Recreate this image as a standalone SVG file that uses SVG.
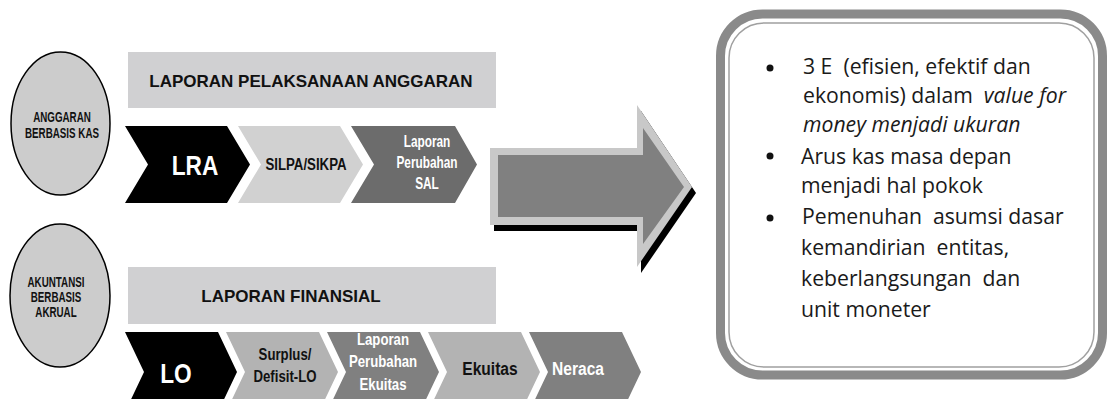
<svg xmlns="http://www.w3.org/2000/svg" width="1107" height="399" viewBox="0 0 1107 399">
<style>
.nar{font-family:"Liberation Sans",Arial,sans-serif;font-weight:bold;text-anchor:middle}
.ban{font-family:"Liberation Sans",Arial,sans-serif;font-weight:bold;font-size:17px;text-anchor:middle;fill:#111}
.ell{fill:#cccccc;stroke:#000;stroke-width:1.5}
.w{fill:#fff}.k{fill:#111}
.body{font-family:"Open Sans",Lato,sans-serif;font-size:21.2px;fill:#1a1a1a}
</style>
<rect width="1107" height="399" fill="#fff"/>
<g id="circle-kas">
<ellipse class="ell" cx="60.5" cy="123.5" rx="49.5" ry="71.5"/>
<text class="nar k" font-size="14" transform="translate(62,122) scale(0.7,1)">ANGGARAN</text>
<text class="nar k" font-size="14" transform="translate(62,138) scale(0.7,1)">BERBASIS KAS</text>
</g>
<g id="circle-akrual">
<ellipse class="ell" cx="60" cy="295.5" rx="50" ry="71.5"/>
<text class="nar k" font-size="14" transform="translate(56,287) scale(0.7,1)">AKUNTANSI</text>
<text class="nar k" font-size="14" transform="translate(56,302) scale(0.7,1)">BERBASIS</text>
<text class="nar k" font-size="14" transform="translate(56,317) scale(0.7,1)">AKRUAL</text>
</g>
<g id="banner-lpa">
<rect x="128" y="52" width="368" height="56" fill="#d0d0d2"/>
<text class="ban" x="311" y="87">LAPORAN PELAKSANAAN ANGGARAN</text>
</g>
<g id="banner-lf">
<rect x="128" y="267" width="368" height="57" fill="#d0d0d2"/>
<text class="ban" x="291" y="302">LAPORAN FINANSIAL</text>
</g>
<g id="chev-lra">
<polygon points="125,126 227,126 250,164.5 227,203 125,203 148,164.5" fill="#000"/>
<text class="nar w" font-size="27" transform="translate(195,175) scale(0.84,1)">LRA</text>
</g>
<g id="chev-silpa">
<polygon points="238,126 340,126 363,164.5 340,203 238,203 261,164.5" fill="#d1d1d1"/>
<text class="nar k" font-size="17" transform="translate(306,170) scale(0.78,1)">SILPA/SIKPA</text>
</g>
<g id="chev-sal">
<polygon points="351,126 455,126 477,164.5 455,203 351,203 374,164.5" fill="#6c6c6c"/>
<text class="nar w" font-size="16" transform="translate(427,147) scale(0.74,1)">Laporan</text>
<text class="nar w" font-size="16" transform="translate(427,168) scale(0.74,1)">Perubahan</text>
<text class="nar w" font-size="16" transform="translate(427,189) scale(0.74,1)">SAL</text>
</g>
<g id="chev-lo">
<polygon points="125,332 218,332 237,372 218,412 125,412 144,372" fill="#000"/>
<text class="nar w" font-size="27" transform="translate(176,383) scale(0.84,1)">LO</text>
</g>
<g id="chev-surplus">
<polygon points="226,332 319,332 338,372 319,412 226,412 245,372" fill="#b3b3b3"/>
<text class="nar k" font-size="16.5" transform="translate(285,360) scale(0.8,1)">Surplus/</text>
<text class="nar k" font-size="16.5" transform="translate(285,382) scale(0.8,1)">Defisit-LO</text>
</g>
<g id="chev-lpe">
<polygon points="327,332 420,332 439,372 420,412 327,412 346,372" fill="#808080"/>
<text class="nar w" font-size="16.5" transform="translate(383,345) scale(0.8,1)">Laporan</text>
<text class="nar w" font-size="16.5" transform="translate(383,367) scale(0.8,1)">Perubahan</text>
<text class="nar w" font-size="16.5" transform="translate(383,390) scale(0.8,1)">Ekuitas</text>
</g>
<g id="chev-ekuitas">
<polygon points="428,332 521,332 540,372 521,412 428,412 447,372" fill="#b3b3b3"/>
<text class="nar k" font-size="19" transform="translate(490,375) scale(0.82,1)">Ekuitas</text>
</g>
<g id="chev-neraca">
<polygon points="529,332 622,332 641,372 622,412 529,412 548,372" fill="#808080"/>
<text class="nar w" font-size="19" transform="translate(578,375) scale(0.82,1)">Neraca</text>
</g>
<g id="connectors">
<polygon points="494,154 641,154 641,111 696,193 641,273 641,231 494,231" fill="#000"/>
<polygon points="490,148 637,148 637,105 692,187 637,267 637,225 490,225" fill="#c8c8c8"/>
<polygon points="498,155 643,155 643,128 684,187 643,244 643,217 498,217" fill="#808080"/>
</g>
<g id="box">
<rect x="720.5" y="14" width="382" height="361" rx="42" fill="#fff" stroke="#8a8a8a" stroke-width="9"/>
<rect x="729" y="23" width="365" height="344" rx="35" fill="none" stroke="#a0a0a0" stroke-width="1.5"/>
<circle cx="770" cy="68" r="3.5" fill="#111"/>
<circle cx="770" cy="156" r="3.5" fill="#111"/>
<circle cx="770" cy="218" r="3.5" fill="#111"/>
<text class="body" x="803" y="74" xml:space="preserve">3 E  (efisien, efektif dan</text>
<text class="body" x="803" y="103" xml:space="preserve">ekonomis) dalam  <tspan font-style="italic">value for</tspan></text>
<text class="body" x="803" y="132" font-style="italic">money menjadi ukuran</text>
<text class="body" x="801" y="164">Arus kas masa depan</text>
<text class="body" x="801" y="193">menjadi hal pokok</text>
<text class="body" x="802" y="224" xml:space="preserve">Pemenuhan  asumsi dasar</text>
<text class="body" x="801" y="255" xml:space="preserve">kemandirian  entitas,</text>
<text class="body" x="801" y="286" xml:space="preserve">keberlangsungan  dan</text>
<text class="body" x="801" y="317">unit moneter</text>
</g>
</svg>
